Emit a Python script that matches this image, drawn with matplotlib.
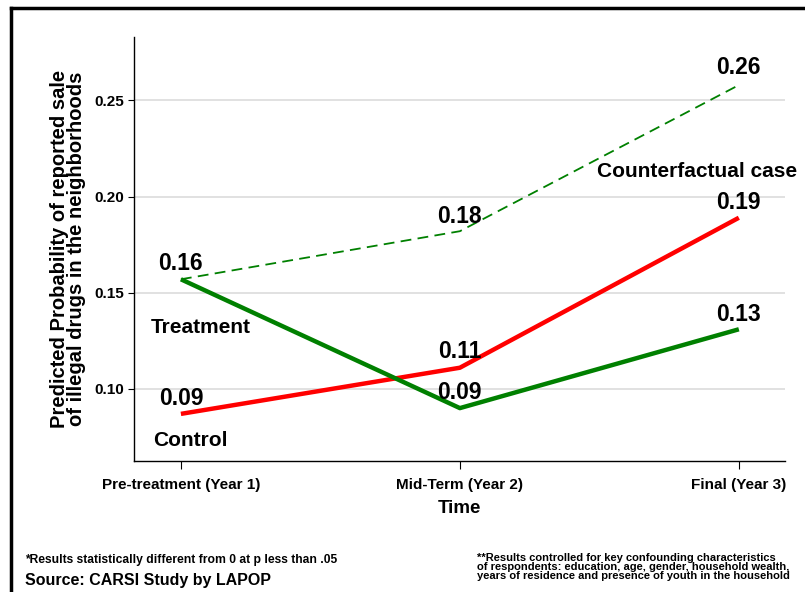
import numpy as np
import matplotlib.pyplot as plt
from matplotlib.lines import Line2D

# data
periods = ['Pre-treatment (Year 1)', 'Mid-Term (Year 2)', 'Final (Year 3)']
treatment = [0.157, 0.090, 0.131]
control = [0.087, 0.111, 0.189]
counterfactual = [0.157, 0.182, 0.258]
yticks = [0.10, 0.15, 0.20, 0.25]

plt.rcParams['font.family'] = ['Liberation Sans', 'DejaVu Sans']

fig = plt.figure(figsize=(8.05, 5.92), dpi=100)
ax = fig.add_axes([0.1665, 0.2213, 0.8085, 0.7162])

x = np.arange(len(periods))
ax.plot(x, counterfactual, color='#008000', lw=1.3, ls=(0, (6, 3.5)), zorder=3)
ax.plot(x, control, color='#ff0000', lw=3.2, zorder=4, solid_capstyle='butt')
ax.plot(x, treatment, color='#008000', lw=3.2, zorder=5, solid_capstyle='butt')

ax.set_xlim(-0.168, 2.165)
ax.set_ylim(0.0625, 0.283)
ax.set_yticks(yticks)
ax.set_yticklabels(['%.2f' % v for v in yticks], fontsize=11, fontweight='bold')
ax.set_xticks(x)
ax.set_xticklabels(periods, fontsize=11, fontweight='bold')
ax.tick_params(axis='x', length=6, width=0.8, pad=6)
ax.tick_params(axis='y', length=4, width=0.8, pad=3)
ax.grid(axis='y', color='#dcdcdc', lw=1.2)
ax.set_axisbelow(True)
for s in ['top', 'right']:
    ax.spines[s].set_visible(False)
for s in ['left', 'bottom']:
    ax.spines[s].set_linewidth(1.0)

ax.set_xlabel('Time', fontsize=13.5, fontweight='bold', labelpad=6)
ax.set_ylabel('Predicted Probability of reported sale\nof illegal drugs in the neighborhoods',
              fontsize=14.5, fontweight='bold', linespacing=0.85, labelpad=6)

lab = dict(fontsize=16.5, fontweight='bold', ha='center', va='center', zorder=6)
ax.text(0, 0.165, '%.2f' % treatment[0], **lab)
ax.text(0, 0.0948, '%.2f' % control[0], **lab)
ax.text(1, 0.1899, '%.2f' % counterfactual[1], **lab)
ax.text(1, 0.1192, '%.2f' % control[1], **lab)
ax.text(1, 0.098, '%.2f' % treatment[1], **lab)
ax.text(2, 0.267, '%.2f' % counterfactual[2], **lab)
ax.text(2, 0.197, '%.2f' % control[2], **lab)
ax.text(2, 0.1385, '%.2f' % treatment[2], **lab)

name = dict(fontsize=15, fontweight='bold', va='center', zorder=6)
ax.text(0.07, 0.1317, 'Treatment', ha='center', **name)
ax.text(0.035, 0.073, 'Control', ha='center', **name)
ax.text(1.85, 0.213, 'Counterfactual case', ha='center', **name)

# footnotes
fig.text(25/805, 1-560/592, '*Results statistically different from 0 at p less than .05',
         fontsize=8.7, fontweight='bold', va='center')
fig.text(25/805, 1-580/592, 'Source: CARSI Study by LAPOP',
         fontsize=11.5, fontweight='bold', va='center')
fig.text(477/805, 1-567/592,
         '**Results controlled for key confounding characteristics\n'
         'of respondents: education, age, gender, household wealth,\n'
         'years of residence and presence of youth in the household',
         fontsize=8, fontweight='bold', va='center', linespacing=0.9)

# outer frame (left and top edges visible)
fig.add_artist(Line2D([11/805, 11/805], [0, 1-8/592], color='black', lw=2.5))
fig.add_artist(Line2D([11/805, 1], [1-8/592, 1-8/592], color='black', lw=2.5))

fig.savefig('out.png', dpi=100)
